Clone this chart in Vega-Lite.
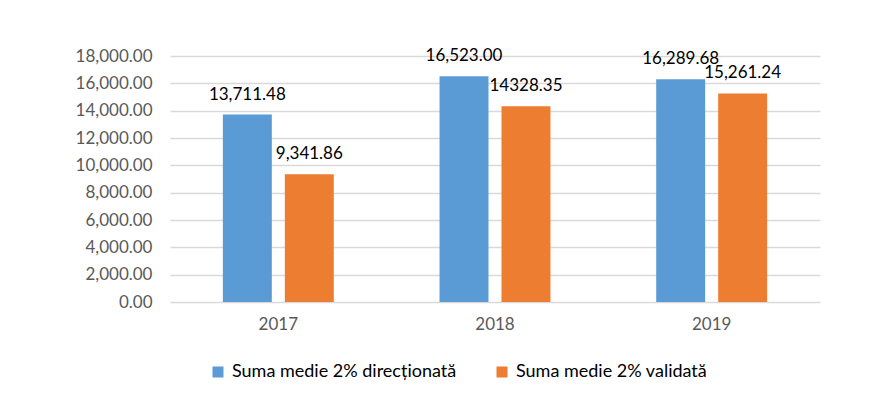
{
  "$schema": "https://vega.github.io/schema/vega-lite/v6.json",
  "width": 650,
  "height": 246,
  "autosize": "none",
  "padding": {"left": 170, "top": 56, "right": 58, "bottom": 116},
  "background": "white",
  "data": {
    "values": [
      {"year": "2017", "series": "Suma medie 2% direcționată", "value": 13711.48, "label": "13,711.48"},
      {"year": "2017", "series": "Suma medie 2% validată", "value": 9341.86, "label": "9,341.86"},
      {"year": "2018", "series": "Suma medie 2% direcționată", "value": 16523.00, "label": "16,523.00"},
      {"year": "2018", "series": "Suma medie 2% validată", "value": 14328.35, "label": "14328.35"},
      {"year": "2019", "series": "Suma medie 2% direcționată", "value": 16289.68, "label": "16,289.68"},
      {"year": "2019", "series": "Suma medie 2% validată", "value": 15261.24, "label": "15,261.24"}
    ]
  },
  "encoding": {
    "x": {
      "field": "year", "type": "nominal",
      "scale": {"paddingInner": 0, "paddingOuter": 0},
      "axis": {"title": null, "labelAngle": 0, "ticks": false, "domain": false, "labelPadding": 14, "labelColor": "#595959", "labelFontSize": 17, "labelFont": "Lato"}
    },
    "xOffset": {
      "field": "series", "type": "nominal",
      "scale": {"paddingInner": 0.21, "paddingOuter": 0.853}
    },
    "y": {
      "field": "value", "type": "quantitative",
      "scale": {"domain": [0, 18000], "nice": false},
      "axis": {"title": null, "values": [0, 2000, 4000, 6000, 8000, 10000, 12000, 14000, 16000, 18000], "format": ",.2f", "domain": false, "ticks": false, "labelPadding": 18, "labelColor": "#595959", "labelFontSize": 17, "labelFont": "Lato", "gridColor": "#d9d9d9", "gridWidth": 1.3}
    }
  },
  "layer": [
    {
      "mark": {"type": "bar"},
      "encoding": {
        "color": {
          "field": "series", "type": "nominal",
          "scale": {"range": ["#5B9BD5", "#ED7D31"]},
          "legend": {
            "title": null, "orient": "none", "direction": "horizontal",
            "legendX": 39, "legendY": 307,
            "symbolType": "square", "symbolSize": 121, "symbolStrokeWidth": 0,
            "labelFont": "Lato", "labelFontSize": 18, "labelColor": "#000000", "labelLimit": 500,
            "labelOffset": 5, "columnPadding": 36, "padding": 0
          }
        }
      }
    },
    {
      "mark": {"type": "text", "baseline": "alphabetic", "dy": -15, "font": "Lato", "fontSize": 17, "color": "#000000"},
      "encoding": {"text": {"field": "label"}}
    }
  ],
  "config": {"view": {"stroke": null}}
}
